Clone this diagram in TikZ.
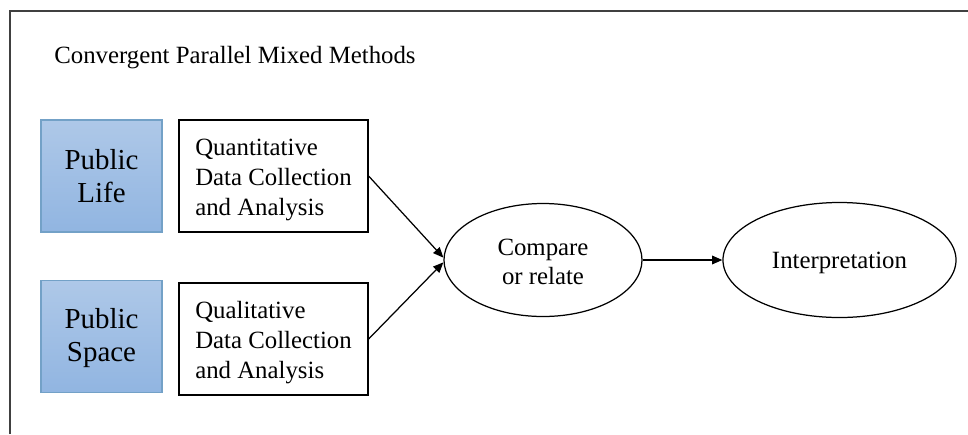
\documentclass[tikz,border=0pt]{standalone}
\usepackage{fontspec}
\setmainfont{Liberation Serif}
\usetikzlibrary{positioning, arrows.meta, shapes.geometric}
\newcommand{\tstrut}{\rule{0pt}{12pt}}

\begin{document}
\begin{tikzpicture}[x=0.017cm,y=-0.017cm,pbox/.style={draw=blue!45!cyan!60!black!55,line width=0.6pt,top color={rgb,255:red,174;green,200;blue,232},bottom color={rgb,255:red,145;green,181;blue,225},align=center,inner sep=0pt,minimum width=2.057cm,minimum height=1.904cm,font=\fontsize{14}{16}\selectfont},dbox/.style={draw=black,line width=0.6pt,fill=white,align=left,inner sep=0pt,minimum width=3.213cm,minimum height=1.904cm,font=\fontsize{12}{14.5}\selectfont},oval/.style={ellipse,draw=black,line width=0.6pt,align=center,inner sep=0pt,font=\fontsize{12}{14}\selectfont},arrow/.style={line width=0.6pt,-{Triangle[length=5pt,width=4.2pt]}},title/.style={font=\fontsize{12}{14.5}\selectfont}]
\useasboundingbox (0,0) rectangle (968,434);
\draw[line width=0.7pt,black!75] (10,434) -- (10,11) -- (968,11);
\node[anchor=west, title] (ttl) at (47,58) {Convergent Parallel Mixed Methods};
\node[pbox] (life) at (101.5,176) {Public\\Life};
\node[pbox] (space) at (101.5,336.5) {\rule{0pt}{11pt}Public\\Space};
\node[dbox] (quant) at (273.5,176) {\tstrut Quantitative\\Data Collection\\and Analysis};
\node[dbox] (qual) at (273.5,339) {\tstrut Qualitative\\Data Collection\\and Analysis};
\node[oval, minimum width=3.366cm, minimum height=1.921cm] (cmp) at (543,260) {\rule{0pt}{9.5pt}Compare\\or relate};
\node[oval, minimum width=3.961cm, minimum height=1.955cm] (interp) at (839.5,260) {\rule{0pt}{11pt}Interpretation};
\draw[arrow] (quant.east) -- ([yshift=0.04cm]cmp.west);
\draw[arrow] (qual.east) -- ([yshift=-0.04cm]cmp.west);
\draw[arrow] (cmp) -- (interp);
\end{tikzpicture}
\end{document}
